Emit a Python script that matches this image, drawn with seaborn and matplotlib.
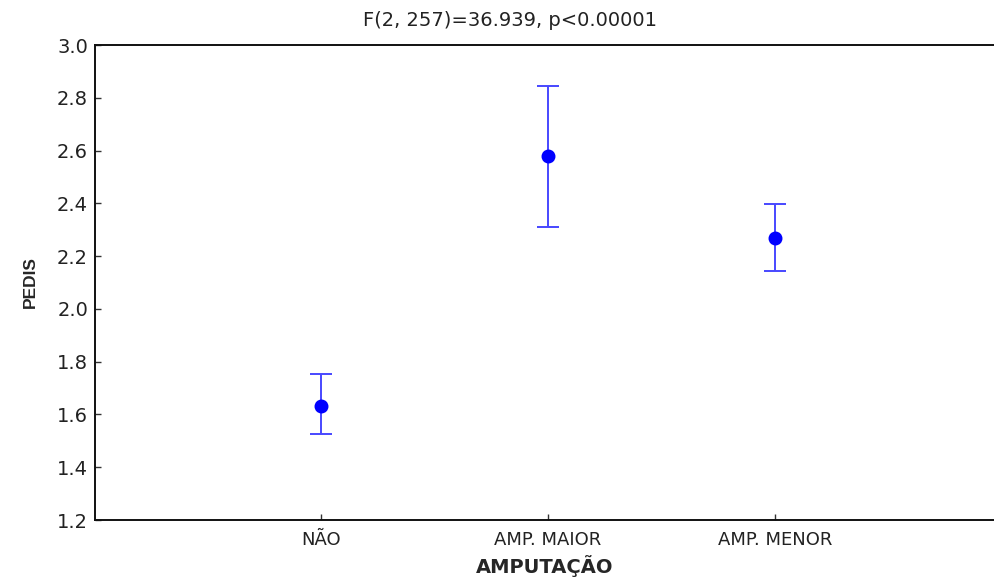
import matplotlib
matplotlib.use('Agg')
import matplotlib.pyplot as plt
import seaborn as sns
import pandas as pd

# dados
categorias = ["NÃO", "AMP. MAIOR", "AMP. MENOR"]
medias = [1.632, 2.579, 2.269]
limite_inf = [1.526, 2.310, 2.144]
limite_sup = [1.752, 2.846, 2.399]
titulo = "F(2, 257)=36.939, p<0.00001"

sns.set_theme(style="ticks", context="notebook")
plt.rcParams['font.family'] = ['DejaVu Sans']
plt.rcParams['xtick.direction'] = 'in'
plt.rcParams['ytick.direction'] = 'in'

df = pd.DataFrame({"AMPUTACAO": categorias, "PEDIS": medias})

fig = plt.figure(figsize=(9.94, 5.78), dpi=100)
ax = fig.add_axes([0.0956, 0.1003, 0.9044, 0.8217])

# barras de erro (intervalo)
x = list(range(len(categorias)))
err_baixo = [m - l for m, l in zip(medias, limite_inf)]
err_cima = [u - m for m, u in zip(medias, limite_sup)]
ax.errorbar(x, medias, yerr=[err_baixo, err_cima], fmt="none",
            ecolor="#4848ff", elinewidth=1.4, capsize=8, capthick=1.4, zorder=2)

# pontos (médias)
sns.pointplot(data=df, x="AMPUTACAO", y="PEDIS", order=categorias,
              linestyle="none", marker="o", markersize=8, color="#0000ff",
              errorbar=None, ax=ax, zorder=3)

ax.set_xlim(-0.996, 2.965)
ax.set_ylim(1.2, 3.0)
ax.set_yticks([1.2, 1.4, 1.6, 1.8, 2.0, 2.2, 2.4, 2.6, 2.8, 3.0])
ax.set_yticklabels([f"{v:.1f}" for v in ax.get_yticks()])

ax.tick_params(axis="both", direction="in", length=4, width=1, color="#333333",
               left=True, bottom=True, top=False, right=False)
ax.tick_params(axis="y", labelsize=14, pad=5, labelcolor="#222222")
ax.tick_params(axis="x", labelsize=13, pad=8, labelcolor="#222222")

for lado in ["left", "bottom", "top"]:
    ax.spines[lado].set_visible(True)
    ax.spines[lado].set_color("#111111")
    ax.spines[lado].set_linewidth(1.4)
ax.spines["right"].set_visible(False)

ax.set_xlabel("AMPUTAÇÃO", fontsize=14, fontweight="bold", labelpad=4)
ax.set_ylabel("PEDIS", fontsize=12.5, fontweight="bold", labelpad=14,
              family="Liberation Sans")
ax.set_title(titulo, fontsize=14, pad=14, color="#222222", x=0.4616)

fig.savefig("out.png", dpi=100)
